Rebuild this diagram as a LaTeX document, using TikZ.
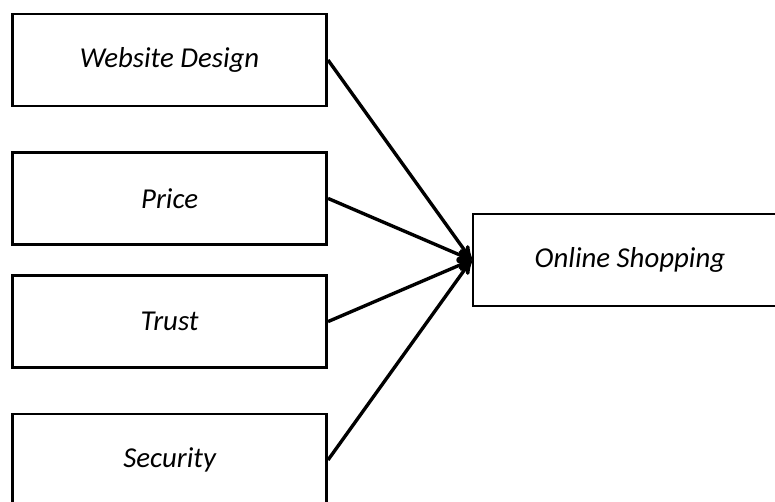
\documentclass[tikz,border=0pt]{standalone}
\usepackage{fontspec}
\setmainfont{Carlito}
\usetikzlibrary{arrows}

\begin{document}
\begin{tikzpicture}[>=stealth',line width=2.4pt,
    factor/.style={draw,rectangle,minimum width=7.85cm,minimum height=2.3cm,
        font=\fontsize{20.5}{24}\selectfont\itshape,line width=2pt}]

        \useasboundingbox (0,0) rectangle (19.375,-12.525);

        \node[factor]  (WD) at (4.24,-1.5)                      {Website Design};
        \node[factor]  (PR) [below of=WD,node distance=3.46cm]  {Price};
        \node[factor]  (TR) [below of=PR,node distance=3.08cm]  {Trust};
        \node[factor]  (SE) [below of=TR,node distance=3.46cm]  {Security};
        \node[factor]  (OS) at (15.75,-6.5)                     {Online Shopping};

        \path[->] (WD.east) edge (OS.west)
                  (PR.east) edge (OS.west)
                  (TR.east) edge (OS.west)
                  (SE.east) edge (OS.west);
      \end{tikzpicture}
\end{document}
